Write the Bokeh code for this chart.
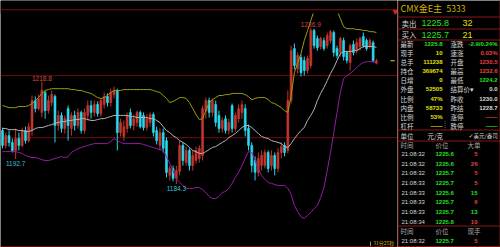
from bokeh.plotting import figure
from bokeh.models import ColumnDataSource, Range1d, Span, BoxAnnotation, Label
from bokeh.layouts import row
from bokeh.embed import file_html
from bokeh.resources import INLINE
from bokeh.core.properties import value

# ---------------- data ----------------
opens = [1202.3, 1197.3, 1200.6, 1198.3, 1195.6, 1199.6, 1197.3, 1202.3, 1198.9, 1202.3,
         1212.4, 1209.7, 1208.4, 1215.1, 1209.0, 1211.7, 1213.8, 1204.0, 1207.4, 1203.0,
         1209.7, 1203.0, 1207.4, 1204.0, 1208.4, 1202.3, 1207.4, 1210.7, 1208.4, 1211.1,
         1208.0, 1211.1, 1213.8, 1211.7, 1214.4, 1215.8, 1201.6, 1200.3, 1203.0, 1208.4,
         1204.0, 1205.0, 1208.4, 1207.4, 1203.3, 1205.0, 1207.7, 1202.3, 1197.3, 1201.6,
         1198.9, 1187.2, 1189.5, 1186.2, 1188.5, 1197.3, 1191.5, 1195.6, 1190.5, 1192.2,
         1192.9, 1193.9, 1209.0, 1212.4, 1208.4, 1211.1, 1207.4, 1203.0, 1206.3, 1202.3,
         1210.7, 1203.0, 1206.3, 1208.4, 1209.7, 1203.0, 1197.3, 1192.2, 1188.2, 1190.5,
         1190.5, 1194.9, 1190.5, 1193.9, 1189.5, 1194.9, 1197.3, 1195.6, 1212.4, 1229.9,
         1223.2, 1226.9, 1225.9, 1222.5, 1224.2, 1236.0, 1233.3, 1230.6, 1232.6, 1230.9,
         1232.6, 1235.3, 1229.9, 1228.6, 1232.6, 1228.6, 1225.2, 1231.3, 1229.2, 1230.6,
         1234.0, 1232.6, 1230.6, 1231.9, 1225.0]
highs = [1203.3, 1201.6, 1202.3, 1199.6, 1203.0, 1201.6, 1203.3, 1203.6, 1205.0, 1214.1,
         1213.8, 1214.4, 1218.8, 1215.8, 1214.1, 1215.8, 1214.4, 1209.0, 1208.4, 1207.4,
         1210.7, 1208.4, 1209.0, 1209.7, 1209.0, 1209.7, 1212.4, 1212.4, 1212.4, 1212.1,
         1213.1, 1215.1, 1214.8, 1216.4, 1217.1, 1216.4, 1206.3, 1205.7, 1208.4, 1209.7,
         1207.7, 1209.0, 1209.0, 1208.4, 1207.7, 1208.4, 1208.4, 1203.6, 1203.0, 1203.0,
         1200.0, 1190.5, 1190.5, 1190.5, 1198.9, 1198.3, 1196.9, 1196.3, 1195.6, 1196.9,
         1197.3, 1210.7, 1213.4, 1213.4, 1213.1, 1212.4, 1209.0, 1206.7, 1207.4, 1206.3,
         1211.4, 1208.4, 1211.1, 1212.4, 1211.1, 1204.3, 1198.3, 1193.6, 1194.9, 1195.6,
         1195.9, 1195.6, 1195.6, 1194.9, 1196.3, 1198.3, 1198.3, 1215.8, 1230.9, 1231.6,
         1228.6, 1227.9, 1227.2, 1227.6, 1236.9, 1236.6, 1234.3, 1233.9, 1233.6, 1235.3,
         1236.2, 1236.0, 1230.9, 1233.9, 1233.6, 1229.2, 1231.6, 1232.6, 1233.3, 1233.9,
         1235.3, 1233.3, 1233.3, 1232.6, 1226.5]
lows = [1196.3, 1196.3, 1196.9, 1194.9, 1192.7, 1195.6, 1196.6, 1197.9, 1198.3, 1200.6,
        1208.4, 1209.0, 1206.7, 1206.3, 1208.0, 1210.4, 1198.3, 1202.3, 1201.6, 1201.3,
        1198.9, 1200.6, 1202.3, 1203.0, 1201.3, 1201.3, 1205.7, 1206.3, 1207.0, 1207.0,
        1207.0, 1209.7, 1210.4, 1210.4, 1213.1, 1195.6, 1200.3, 1198.9, 1201.6, 1203.0,
        1202.3, 1203.6, 1203.0, 1202.3, 1202.3, 1203.6, 1200.3, 1197.6, 1195.6, 1194.9,
        1186.5, 1185.5, 1185.2, 1184.3, 1187.2, 1190.5, 1190.5, 1188.8, 1188.8, 1191.2,
        1191.5, 1192.2, 1206.3, 1206.7, 1207.0, 1203.6, 1201.6, 1201.6, 1201.3, 1201.0,
        1201.6, 1202.0, 1205.0, 1206.3, 1200.3, 1195.6, 1188.2, 1185.5, 1186.9, 1188.8,
        1189.5, 1188.2, 1188.8, 1187.2, 1188.2, 1192.9, 1193.6, 1194.6, 1211.4, 1222.9,
        1221.5, 1220.5, 1220.8, 1221.5, 1223.2, 1229.9, 1229.2, 1229.6, 1229.2, 1229.9,
        1231.6, 1227.2, 1226.6, 1227.2, 1225.9, 1224.9, 1222.5, 1227.6, 1228.2, 1229.2,
        1230.2, 1229.2, 1229.9, 1225.2, 1224.6]
closes = [1197.3, 1200.6, 1198.3, 1195.6, 1199.6, 1197.3, 1202.3, 1198.9, 1203.6, 1212.4,
          1209.7, 1213.1, 1215.8, 1209.0, 1212.4, 1214.4, 1204.0, 1207.4, 1203.0, 1206.3,
          1204.0, 1207.4, 1204.0, 1208.4, 1202.3, 1208.4, 1210.7, 1208.4, 1211.1, 1208.0,
          1212.4, 1213.8, 1211.7, 1215.1, 1215.8, 1201.6, 1205.0, 1203.6, 1207.4, 1204.0,
          1206.3, 1208.4, 1203.6, 1203.3, 1206.3, 1207.7, 1201.6, 1198.9, 1201.6, 1196.3,
          1188.2, 1189.5, 1186.2, 1188.8, 1197.3, 1192.2, 1195.6, 1190.5, 1193.9, 1195.6,
          1196.3, 1209.7, 1212.4, 1208.4, 1212.4, 1205.0, 1203.0, 1205.7, 1202.3, 1205.0,
          1203.0, 1207.4, 1209.7, 1211.1, 1202.3, 1197.3, 1190.5, 1188.2, 1192.9, 1193.9,
          1194.9, 1189.5, 1193.9, 1189.5, 1194.9, 1196.9, 1194.9, 1212.4, 1229.2, 1224.2,
          1227.6, 1221.8, 1222.5, 1226.6, 1236.0, 1230.9, 1230.2, 1233.3, 1229.9, 1234.3,
          1235.6, 1228.6, 1227.6, 1233.3, 1227.2, 1225.9, 1230.9, 1228.6, 1231.9, 1233.3,
          1230.9, 1229.9, 1232.6, 1225.9, 1225.8]

boll_upper = [1210.7, 1210.4, 1210.0, 1210.0, 1210.0, 1210.4, 1210.4, 1210.4, 1210.7, 1211.4,
              1212.4, 1213.4, 1214.8, 1215.8, 1216.1, 1216.4, 1216.4, 1216.4, 1216.4, 1216.4,
              1216.4, 1216.1, 1216.1, 1215.8, 1215.8, 1215.4, 1215.1, 1214.8, 1214.1, 1213.4,
              1213.1, 1213.4, 1214.1, 1215.1, 1215.8, 1215.8, 1215.8, 1216.1, 1216.1, 1216.1,
              1216.1, 1216.1, 1216.1, 1216.1, 1216.1, 1216.1, 1215.8, 1215.4, 1215.1, 1214.1,
              1213.1, 1211.7, 1212.1, 1212.7, 1213.4, 1213.4, 1213.1, 1211.7, 1209.7, 1207.7,
              1206.0, 1206.3, 1209.0, 1211.7, 1212.7, 1213.4, 1214.1, 1214.1, 1214.4, 1214.4,
              1214.8, 1214.8, 1214.8, 1214.8, 1214.4, 1213.7, 1212.7, 1213.1, 1213.4, 1213.4,
              1213.4, 1212.7, 1211.7, 1211.4, 1210.7, 1210.0, 1209.0, 1208.4, 1214.1, 1221.8,
              1225.2, 1228.2, 1232.6, 1236.0, 1239.3, 1242.7, 1247.8, 1249.8, 1250.4, 1249.4,
              1248.1, 1245.4, 1242.7, 1240.0, 1237.3, 1236.6, 1236.6, 1236.6, 1236.3, 1236.3,
              1236.0, 1236.0, 1235.6, 1235.6, 1235.3]
boll_mid = [1203.0, 1203.0, 1202.6, 1202.6, 1202.6, 1202.3, 1202.3, 1202.0, 1202.0, 1202.3,
            1203.0, 1203.3, 1203.3, 1203.6, 1204.0, 1204.3, 1204.7, 1205.0, 1205.3, 1205.3,
            1205.7, 1205.7, 1206.0, 1206.0, 1206.3, 1206.3, 1206.0, 1205.7, 1205.7, 1206.0,
            1206.3, 1206.3, 1206.7, 1207.0, 1207.4, 1207.4, 1207.4, 1207.4, 1207.4, 1207.0,
            1207.0, 1206.7, 1206.7, 1206.7, 1206.7, 1206.3, 1206.3, 1205.7, 1205.0, 1203.6,
            1202.3, 1201.6, 1200.6, 1199.9, 1198.9, 1198.3, 1197.6, 1196.6, 1195.6, 1195.2,
            1194.6, 1194.6, 1195.2, 1195.9, 1196.6, 1196.9, 1197.6, 1198.3, 1198.9, 1199.9,
            1200.6, 1201.3, 1202.3, 1203.3, 1204.0, 1204.0, 1203.3, 1202.3, 1201.3, 1200.3,
            1199.9, 1199.6, 1198.9, 1198.6, 1198.3, 1197.9, 1196.9, 1196.6, 1197.9, 1199.6,
            1201.0, 1202.3, 1203.3, 1205.7, 1207.4, 1209.4, 1212.4, 1214.8, 1216.8, 1219.1,
            1221.5, 1223.5, 1225.9, 1228.2, 1228.9, 1228.9, 1228.9, 1229.2, 1229.2, 1229.9,
            1230.6, 1230.6, 1230.6, 1230.6, 1230.3]
boll_lower = [1195.2, 1195.2, 1195.2, 1195.2, 1195.2, 1194.9, 1194.6, 1193.9, 1193.5, 1193.2,
              1193.2, 1192.9, 1192.5, 1192.2, 1192.2, 1192.5, 1192.9, 1193.2, 1193.5, 1193.2,
              1193.5, 1194.9, 1195.6, 1196.2, 1196.6, 1196.9, 1197.3, 1197.6, 1197.9, 1197.9,
              1197.9, 1197.9, 1197.9, 1198.6, 1199.6, 1198.9, 1198.3, 1197.9, 1197.9, 1197.9,
              1197.9, 1197.9, 1197.9, 1197.6, 1197.3, 1196.9, 1196.6, 1196.2, 1195.9, 1195.6,
              1193.5, 1191.2, 1188.8, 1186.1, 1184.8, 1183.8, 1182.8, 1182.8, 1182.8, 1183.1,
              1183.1, 1182.4, 1181.4, 1180.1, 1179.4, 1179.4, 1180.1, 1181.4, 1181.8, 1182.8,
              1184.5, 1186.5, 1188.2, 1190.5, 1192.9, 1195.2, 1194.9, 1192.2, 1189.5, 1187.2,
              1185.8, 1184.8, 1184.5, 1184.1, 1183.8, 1183.8, 1183.8, 1182.8, 1180.8, 1177.0,
              1175.0, 1173.3, 1172.7, 1173.7, 1174.7, 1176.0, 1177.0, 1179.7, 1183.1, 1188.8,
              1194.9, 1201.6, 1208.4, 1215.1, 1219.8, 1220.8, 1221.5, 1222.5, 1223.5, 1224.5,
              1225.2, 1225.5, 1225.5, 1225.5, 1225.2]

high_marks = [12, 94]   # candles labelled with their high
low_marks = [4, 53]     # candles labelled with their low
grid_prices = [1220.8, 1199.9]
frame_top_price = 1243.0
frame_bottom_price = 1163.2

# quote panel
instrument = "CMX金E主"
instrument_code = "5333"
book_labels = ["卖出", "买入"]
book_prices = ["1225.8", "1225.7"]
book_sizes = ["32", "21"]
left_labels = ["最新", "现手", "总手", "持仓", "日增", "外盘", "比例", "内盘", "比例", "杠杆"]
left_values = ["1225.8", "10", "111238", "369674", "0", "52505", "47%", "58733", "53%", "——"]
right_labels = ["涨跌", "速涨", "开盘", "最高", "最低", "结算价▾", "昨收", "昨结", "涨停", "跌停"]
right_values = ["-2.9/0.24%", "0.03%", "1230.5", "1232.6", "1224.2", "0.0", "1230.0", "1228.7", "——", "——"]
tick_times = ["21:08:32", "21:08:32", "21:08:32", "21:08:33", "21:08:33", "21:08:33", "21:08:33", "21:08:34"]
tick_prices = ["1225.6", "1225.6", "1225.7", "1225.7", "1225.6", "1225.7", "1225.7", "1225.8"]
tick_sizes = ["5", "26", "5", "5", "15", "6", "13", "10"]
tick_sides = ["b", "b", "b", "b", "s", "b", "s", "b"]
last_time = "21:08:32"
last_price = "1225.7"
last_size = "5"
countdown = "31分25秒"

# ---------------- styles ----------------
UP = "#c4352e"
DOWN = "#2ad8ee"
GRID = "#6e0c0c"
PANEL_RED = "#8a1616"
GREEN = "#22e022"
YELLOW = "#e0e000"
RED = "#e84040"
WHITE = "#d8d8d8"
GRAY = "#a8a8a8"
GOLD = "#d2b000"
CJK = "Noto Sans CJK SC"
LAT = "Liberation Sans"

n = len(closes)
xs = list(range(n))
src = ColumnDataSource(dict(
    x=xs, h=highs, l=lows,
    top=[max(o, c) for o, c in zip(opens, closes)],
    bot=[min(o, c) for o, c in zip(opens, closes)],
    color=[UP if c >= o else DOWN for o, c in zip(opens, closes)],
))

p = figure(width=397, height=247, x_range=Range1d(-0.61, 120.43),
           y_range=Range1d(1162.9, 1246.1), output_backend="svg",
           toolbar_location=None, x_axis_location=None, y_axis_location=None,
           min_border=0)
p.grid.visible = False
p.background_fill_color = "black"
p.border_fill_color = "black"
p.outline_line_color = None

for g in grid_prices:
    p.add_layout(Span(location=g, dimension="width", line_color=GRID, line_width=1, level="underlay"))

p.segment(x0="x", y0="h", x1="x", y1="l", source=src, color="color", line_width=1)
p.vbar(x="x", width=0.6, top="top", bottom="bot", source=src,
       fill_color="color", line_color="color", line_width=0.6)

p.line(xs, boll_upper, color="#9c9c10", line_width=1)
p.line(xs, boll_mid, color="#b4b4b4", line_width=1)
p.line(xs, boll_lower, color="#9a1aa4", line_width=1)

p.text(x=high_marks, y=[highs[i] for i in high_marks],
       text=["%.1f" % highs[i] for i in high_marks], text_color="#d84a40",
       text_font=value(LAT), text_font_size="6.5px", text_align="center",
       text_baseline="bottom", y_offset=-1)
p.text(x=low_marks, y=[lows[i] for i in low_marks],
       text=["%.1f" % lows[i] for i in low_marks], text_color="#3cc0d0",
       text_font=value(LAT), text_font_size="6.5px", text_align="center",
       text_baseline="top", y_offset=2)

# clip region above chart
p.add_layout(BoxAnnotation(bottom=1241.7, fill_color="black", fill_alpha=1.0, line_alpha=0))
p.add_layout(Span(location=frame_top_price, dimension="width", line_color="#7a1010", line_width=1, level="overlay"))
p.add_layout(Span(location=frame_bottom_price, dimension="width", line_color="#7a1010", line_width=1, level="overlay"))

# last price marker on the right edge and corner triangle
p.segment(x0=[118.3], y0=[closes[-1]], x1=[119.6], y1=[closes[-1]], color=YELLOW, line_width=1)
p.scatter(x=[119.8], y=[1242.4], marker="inverted_triangle", size=5, color="#e02020", level="overlay")

# countdown text
p.segment(x0=[112.2], y0=[1162.9], x1=[112.2], y1=[1164.9], color="#909090", line_width=1)
p.add_layout(Label(x=113.0, y=1164.6, text=countdown, text_color=GOLD, text_font=CJK,
                   text_font_size="5px", text_baseline="middle"))

# ---------------- quote panel ----------------
q = figure(width=103, height=247, x_range=Range1d(0, 103), y_range=Range1d(247, 0),
           output_backend="svg", toolbar_location=None, x_axis_location=None,
           y_axis_location=None, min_border=0)
q.grid.visible = False
q.background_fill_color = "black"
q.border_fill_color = "black"
q.outline_line_color = None

hy = [16.5, 28.5, 39.5, 129.5, 140.5, 225.5, 246.0]
q.segment(x0=[0] * len(hy), y0=hy, x1=[103] * len(hy), y1=hy, color=PANEL_RED, line_width=1)
q.segment(x0=[0.5, 102.5], y0=[0, 0], x1=[0.5, 102.5], y1=[247, 247], color=PANEL_RED, line_width=1)
q.segment(x0=[47.5], y0=[120.5], x1=[47.5], y1=[129], color="#606060", line_width=1, line_dash="1 1")


def put(xv, yv, tv, cv, size, font, align="left", bold=False):
    s = ColumnDataSource(dict(x=xv, y=yv, t=tv, c=cv))
    q.text(x="x", y="y", text="t", text_color="c", source=s, text_font=value(font),
           text_font_size=size, text_align=align, text_baseline="middle",
           text_font_style="bold" if bold else "normal")


put([3], [8], [instrument], [GOLD], "9px", CJK)
put([49], [8], [instrument_code], [GOLD], "8.5px", CJK)

by = [22.5, 34]
put([4, 4], by, book_labels, [WHITE, WHITE], "7.5px", CJK)
put([24, 24], by, book_prices, [GREEN, GREEN], "9px", LAT)
put([65, 65], by, book_sizes, [YELLOW, YELLOW], "9px", LAT)

ry = [43, 52, 61, 70, 79, 88, 98, 107, 116, 125]
put([3] * 10, ry, left_labels, [WHITE] * 10, "6.5px", CJK)
put([45] * 10, ry, left_values, [GREEN] + [YELLOW] * 9, "6px", LAT, align="right", bold=True)
put([53] * 10, ry, right_labels, [WHITE] * 10, "6.5px", CJK)
put([100] * 10, ry, right_values,
    [GREEN, RED, RED, RED, GREEN, WHITE, WHITE, WHITE, RED, GREEN],
    "6px", LAT, align="right", bold=True)

put([3, 30], [135, 135], ["单位", "元/克"], [WHITE, WHITE], "6.5px", CJK)
put([71], [135], ["✓"], [YELLOW], "6px", "DejaVu Sans")
put([76], [135], ["美元/盎司"], [WHITE], "5.5px", CJK)

put([3, 38, 70], [144] * 3, ["时间", "价位", "大单"], [GRAY] * 3, "6.5px", CJK)
ty = [153, 163, 172, 182, 192, 201, 211, 221]
put([4] * 8, ty, tick_times, [WHITE] * 8, "6px", LAT)
put([38] * 8, ty, tick_prices, [GREEN] * 8, "6px", LAT, bold=True)
put([80] * 8, ty, tick_sizes, [RED if s == "b" else GREEN for s in tick_sides], "6px", LAT,
    align="right", bold=True)

put([3, 38, 70], [230] * 3, ["时间", "价位", "现手"], [GRAY] * 3, "6.5px", CJK)
put([4], [240], [last_time], [WHITE], "6px", LAT)
put([38], [240], [last_price], [GREEN], "6px", LAT, bold=True)
put([80], [240], [last_size], [RED], "6px", LAT, align="right", bold=True)

layout = row(p, q)
open("out.html", "w", encoding="utf-8").write(file_html(layout, INLINE))
